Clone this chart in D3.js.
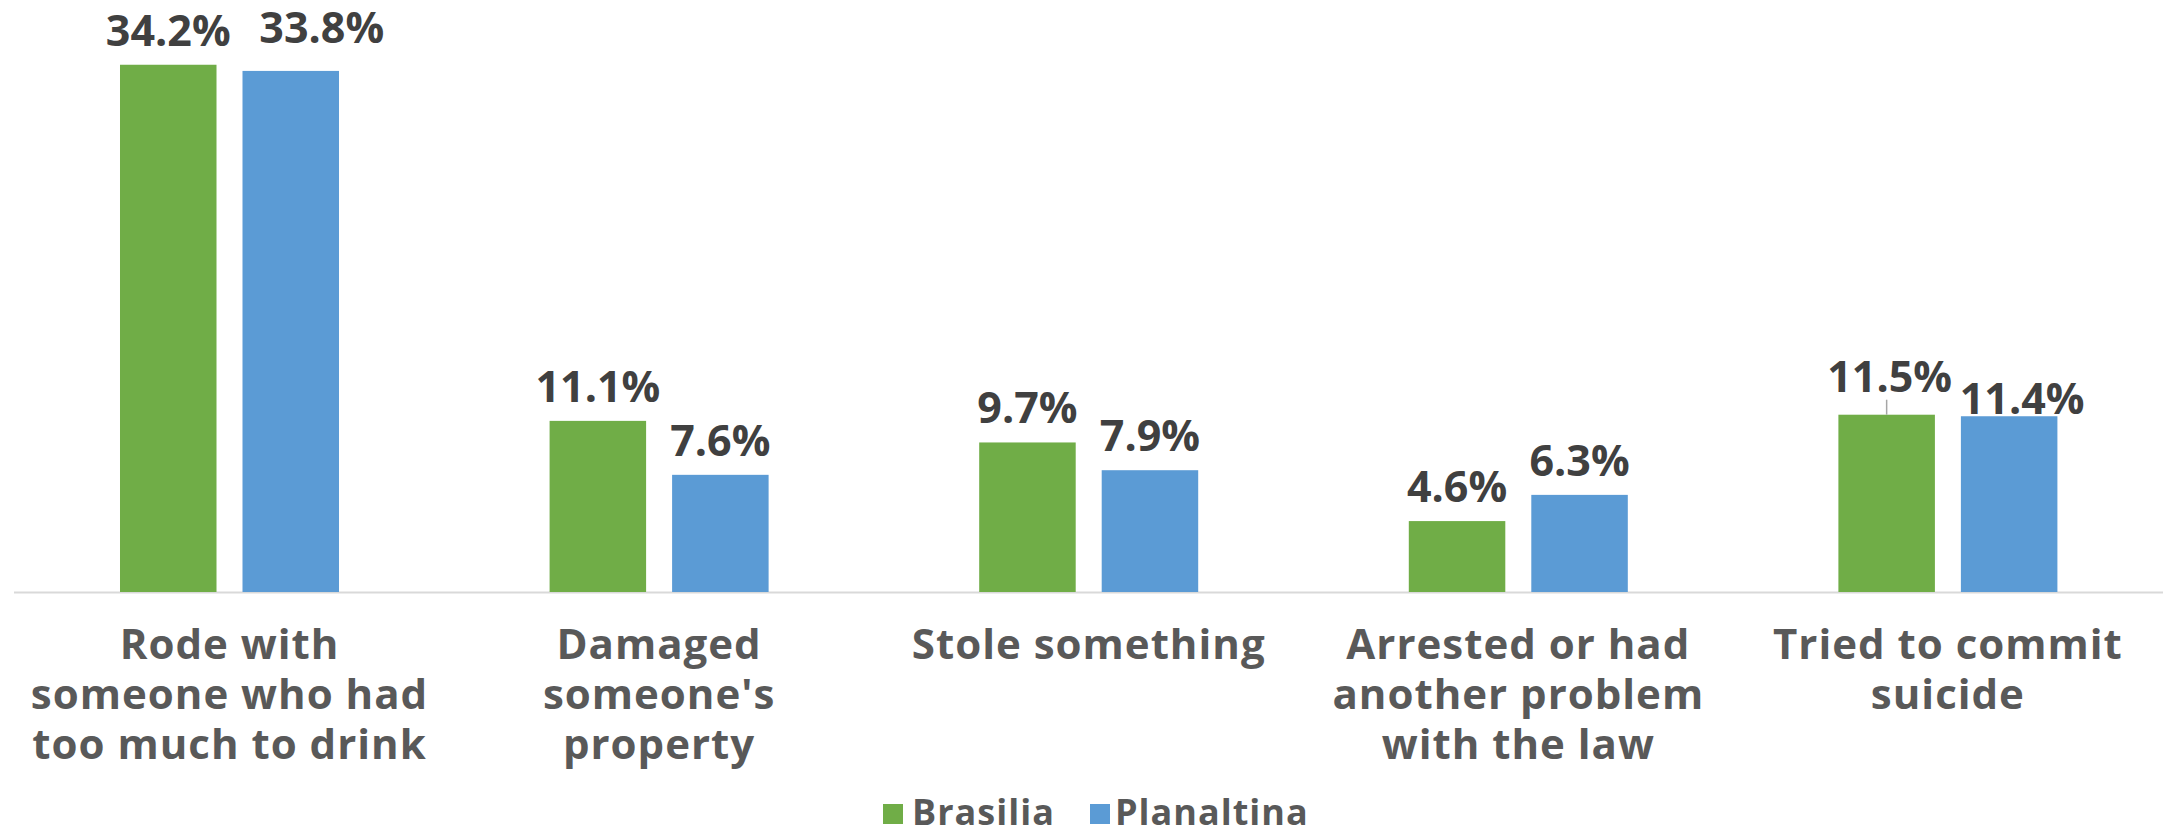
<!DOCTYPE html>
<html>
<head>
<meta charset="utf-8">
<script src="https://cdn.jsdelivr.net/npm/d3@7"></script>
<style>
  html, body { margin: 0; padding: 0; background: #ffffff; }
  svg { display: block; }
</style>
</head>
<body>
<svg id="chart" width="2165" height="831"></svg>
<script>
// ---------- data ----------
const categories = [
  "Rode with someone who had too much to drink",
  "Damaged someone's property",
  "Stole something",
  "Arrested or had another problem with the law",
  "Tried to commit suicide"
];
const categoryLines = [
  ["Rode with", "someone who had", "too much to drink"],
  ["Damaged", "someone's", "property"],
  ["Stole something"],
  ["Arrested or had", "another problem", "with the law"],
  ["Tried to commit", "suicide"]
];
const seriesNames = ["Brasilia", "Planaltina"];
const brasilia   = [34.2, 11.1, 9.7, 4.6, 11.5];
const planaltina = [33.8, 7.6, 7.9, 6.3, 11.4];
const valueLabels = {
  Brasilia:   ["34.2%", "11.1%", "9.7%", "4.6%", "11.5%"],
  Planaltina: ["33.8%", "7.6%", "7.9%", "6.3%", "11.4%"]
};

// ---------- layout / style ----------
const colors = { Brasilia: "#70AD47", Planaltina: "#5B9BD5" };
// manual nudges of individual data labels (as in the original chart)
const labelNudge = {
  "0|Planaltina": { dx: 31, dy: -9 },
  "4|Brasilia":   { dx: 3,  dy: -4, leader: true },
  "4|Planaltina": { dx: 13, dy: 17 }
};

const svg = d3.select("#chart");
const baseY = 592;

const x0 = d3.scaleBand()
  .domain(d3.range(categories.length))
  .range([14.7, 2162.7])
  .paddingInner(0.4902)
  .paddingOuter(0.2451);

const x1 = d3.scaleBand()
  .domain(seriesNames)
  .range([0, x0.bandwidth()])
  .paddingInner(0.2122);

const y = d3.scaleLinear().domain([0, 38.4]).range([baseY, 0]);

const rows = categories.map((c, i) => ({
  i, cat: c,
  values: [
    { s: "Brasilia", v: brasilia[i], label: valueLabels.Brasilia[i] },
    { s: "Planaltina", v: planaltina[i], label: valueLabels.Planaltina[i] }
  ]
}));

// axis line
svg.append("line")
  .attr("x1", 14).attr("x2", 2163)
  .attr("y1", baseY + 0.5).attr("y2", baseY + 0.5)
  .attr("stroke", "#d9d9d9").attr("stroke-width", 2);

const groups = svg.selectAll("g.cat").data(rows).join("g")
  .attr("class", "cat")
  .attr("transform", d => `translate(${x0(d.i)},0)`);

groups.selectAll("rect").data(d => d.values).join("rect")
  .attr("x", d => x1(d.s))
  .attr("width", x1.bandwidth())
  .attr("y", d => y(d.v))
  .attr("height", d => y(0) - y(d.v))
  .attr("fill", d => colors[d.s]);

// value labels
groups.each(function(row) {
  const g = d3.select(this);
  row.values.forEach(d => {
    const n = labelNudge[row.i + "|" + d.s] || { dx: 0, dy: 0 };
    const cx = x1(d.s) + x1.bandwidth() / 2;
    const by = y(d.v) - 19 + n.dy;
    if (n.leader) {
      g.append("line")
        .attr("x1", cx).attr("x2", cx)
        .attr("y1", by + 8).attr("y2", y(d.v))
        .attr("stroke", "#a6a6a6").attr("stroke-width", 1.5);
    }
    g.append("text")
      .attr("x", cx + n.dx)
      .attr("y", by)
      .attr("text-anchor", "middle")
      .attr("font-family", "'Open Sans', sans-serif")
      .attr("font-weight", 700)
      .attr("font-size", 43)
      .attr("fill", "#404040")
      .text(d.label);
  });
});

// category labels
groups.append("text")
  .attr("text-anchor", "middle")
  .attr("font-family", "'Open Sans', sans-serif")
  .attr("font-weight", 700)
  .attr("font-size", 42)
  .attr("letter-spacing", 1)
  .attr("fill", "#595959")
  .selectAll("tspan").data(d => categoryLines[d.i].map(t => ({ t, w: x0.bandwidth() / 2 })))
  .join("tspan")
  .attr("x", d => d.w)
  .attr("y", (d, k) => 659 + k * 50)
  .text(d => d.t);

// legend
const legendItems = [
  { s: "Brasilia", sx: 883, tx: 912 },
  { s: "Planaltina", sx: 1090, tx: 1115 }
];
const lg = svg.append("g").selectAll("g").data(legendItems).join("g");
lg.append("rect")
  .attr("x", d => d.sx).attr("y", 804)
  .attr("width", 20).attr("height", 20)
  .attr("fill", d => colors[d.s]);
lg.append("text")
  .attr("x", d => d.tx).attr("y", 825)
  .attr("font-family", "'Open Sans', sans-serif")
  .attr("font-weight", 700)
  .attr("font-size", 36)
  .attr("letter-spacing", 1)
  .attr("fill", "#595959")
  .text(d => d.s);
</script>
</body>
</html>
